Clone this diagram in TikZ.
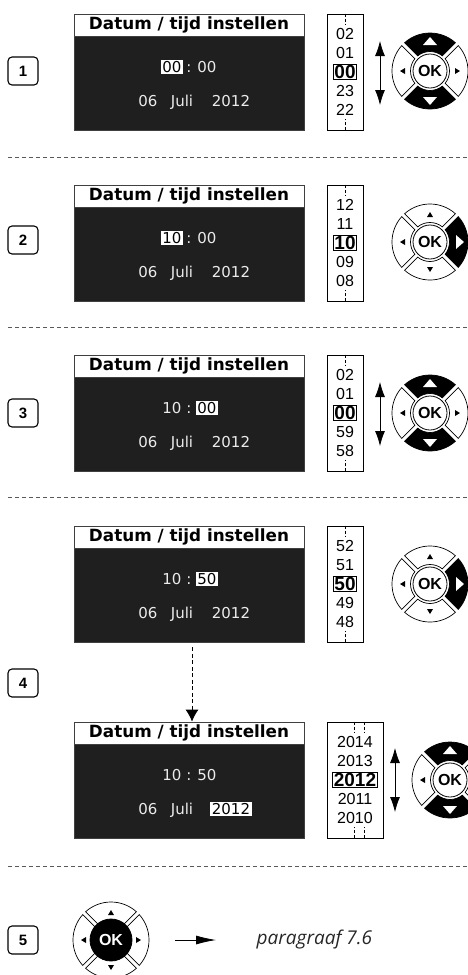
\documentclass[tikz,border=0pt]{standalone}
\usepackage{fontspec}
\setmainfont{Liberation Sans}
\newfontfamily\lcdfont{DejaVu Sans}
\newfontfamily\parafont{Open Sans}
\usetikzlibrary{arrows.meta}

\begin{document}
\begin{tikzpicture}[x=1pt, y=-1pt, line width=0.8pt,
    screen/.style={fill=black!88, draw=black!75, minimum width=230pt, minimum height=116pt, inner sep=0pt},
    header/.style={fill=white, draw=black!75, minimum width=230pt, minimum height=22pt, inner sep=0pt,
        font=\lcdfont\bfseries\fontsize{16.8}{18}\selectfont},
    lcd/.style={text=black!8, inner sep=1.5pt, text height=11pt, text depth=0pt,
        font=\lcdfont\fontsize{15}{16}\selectfont},
    hilite/.style={lcd, fill=white, text=black},
    scroll/.style={draw, fill=white, minimum width=36pt, minimum height=116pt, inner sep=0pt},
    num/.style={inner sep=0pt, font=\fontsize{16}{18}\selectfont},
    numsel/.style={draw, inner sep=1pt, font=\bfseries\fontsize{19}{20}\selectfont},
    stepbox/.style={draw, rounded corners=4pt, line width=1.1pt, minimum width=30pt, minimum height=28pt,
        inner sep=0pt, font=\bfseries\fontsize{15}{16}\selectfont},
    sepline/.style={dash pattern=on 4pt off 3pt, black!65, line width=0.7pt},
    endline/.style={dash pattern=on 3pt off 2pt, line width=0.6pt},
    updown/.style={arrows={Latex[length=15pt,width=10pt]-Latex[length=15pt,width=10pt]}, line width=0.8pt},
    okbtn/.style={circle, draw, fill=white, minimum size=34pt, inner sep=0pt,
        font=\bfseries\fontsize{16}{16}\selectfont},
]

    % Afmetingen van het bedieningswiel
    \def\Rout{38}
    \def\Rin{19.5}

    % wiel: naam, middelpunt, segmenten (hoek/gevuld), stijl van de OK-knop
    \def\okwheel#1#2#3#4{%
        \foreach \a/\f in {#3} {
            \ifnum\f=1 \def\segcol{black}\else \def\segcol{white}\fi
            \begin{scope}[shift={#2}, rotate=\a]
                \draw[fill=\segcol, line width=0.7pt] (-42:\Rout) arc[start angle=-42, end angle=42, radius=\Rout]
                    -- (39:\Rin) arc[start angle=39, end angle=-39, radius=\Rin] -- cycle;
                \ifnum\f=1
                    \fill[white] (26,-7) -- (34,0) -- (26,7) -- cycle;
                \else
                    \fill[black] (25,-3) -- (30,0) -- (25,3) -- cycle;
                \fi
            \end{scope}
        }
        \node[okbtn, #4] (#1) at #2 {OK};
    }

    \useasboundingbox (0,0) rectangle (468,975);

    % 1. Stippellijnen tussen de stappen
    \foreach \y in {157, 327, 497, 866} {
        \draw[sepline] (8,\y) -- (468,\y);
    }

    % 2. Stapnummers
    \foreach \n/\y in {1/71, 2/240, 3/413, 4/683, 5/940} {
        \node[stepbox] (stp\n) at (23,\y) {\n};
    }

    % 3. Displays
    \foreach \n/\t in {1/14, 2/185, 3/355, 4/526, 5/722} {
        \node[screen] (scr\n) at (189,\t+58) {};
        \node[header, anchor=north] (hdr\n) at (scr\n.north) {Datum / tijd instellen};
    }

    % tijd en datum op het display
    \foreach \n/\t/\hh/\mm/\hs/\ms/\ys in {1/14/00/00/hilite/lcd/lcd, 2/185/10/00/hilite/lcd/lcd,
            3/355/10/00/lcd/hilite/lcd, 4/526/10/50/lcd/hilite/lcd, 5/722/10/50/lcd/lcd/hilite} {
        \node[\hs] (hh\n) at (172,\t+53) {\hh};
        \node[lcd] (col\n) at (189,\t+53) {:};
        \node[\ms] (mm\n) at (207,\t+53) {\mm};
        \node[lcd] (dd\n) at (148,\t+87) {06};
        \node[lcd] (mon\n) at (182,\t+87) {Juli};
        \node[\ys] (yr\n) at (231,\t+87) {2012};
    }

    % 4. Keuzelijsten
    \foreach \n/\t/\va/\vb/\vc/\vd/\ve in {1/14/02/01/00/23/22, 2/185/12/11/10/09/08,
            3/355/02/01/00/59/58, 4/526/52/51/50/49/48} {
        \node[scroll] (lst\n) at (345,\t+58) {};
        \draw[endline] (lst\n.north) -- ++(0,11);
        \draw[endline] (lst\n.south) -- ++(0,-11);
        \node[num] (v\n a) at (345,\t+20) {\va};
        \node[num] (v\n b) at (345,\t+39) {\vb};
        \node[numsel] (v\n c) at (345,\t+58) {\vc};
        \node[num] (v\n d) at (345,\t+77) {\vd};
        \node[num] (v\n e) at (345,\t+96) {\ve};
    }

    % jaarlijst
    \node[scroll, minimum width=56pt] (lst5) at (355,780) {};
    \foreach \x in {-1, 9} {
        \draw[endline] ([xshift=\x pt]lst5.north) -- ++(0,11);
        \draw[endline] ([xshift=\x pt]lst5.south) -- ++(0,-11);
    }
    \foreach \y/\v in {742/2014, 761/2013, 799/2011, 818/2010} {
        \node[num] (y\v) at (355,\y) {\v};
    }
    \node[numsel] (y2012) at (355,780) {2012};

    % op/neer pijlen
    \draw[updown] (380,41) -- (380,105);
    \draw[updown] (380,382) -- (380,446);
    \draw[updown] (395,748) -- (395,812);

    % 5. Bedieningswielen
    \okwheel{ok1}{(430,71)}{0/0,90/1,180/0,270/1}{}
    \okwheel{ok2}{(430,242)}{0/1,90/0,180/0,270/0}{}
    \okwheel{ok3}{(430,413)}{0/0,90/1,180/0,270/1}{}
    \okwheel{ok4}{(430,584)}{0/1,90/0,180/0,270/0}{}
    \okwheel{ok5}{(450,780)}{0/0,90/1,180/0,270/1}{}
    \okwheel{ok6}{(111,940)}{0/0,90/0,180/0,270/0}{fill=black, text=white, minimum size=42pt}

    % van minuten naar jaar
    \draw[dash pattern=on 4pt off 2.5pt, shorten <=5pt, -{Latex[length=12pt,width=13pt]}]
        ([xshift=3pt]scr4.south) -- ([xshift=3pt]hdr5.north);

    % 6. Afsluiten
    \node[anchor=west, text=black!85, font=\parafont\itshape\fontsize{19}{21}\selectfont]
        (par) at (253,940) {paragraaf 7.6};
    \draw[-{Latex[length=20pt,width=9pt]}, shorten <=43pt, shorten >=37pt] (ok6.east) -- (par.west);

\end{tikzpicture}
\end{document}
